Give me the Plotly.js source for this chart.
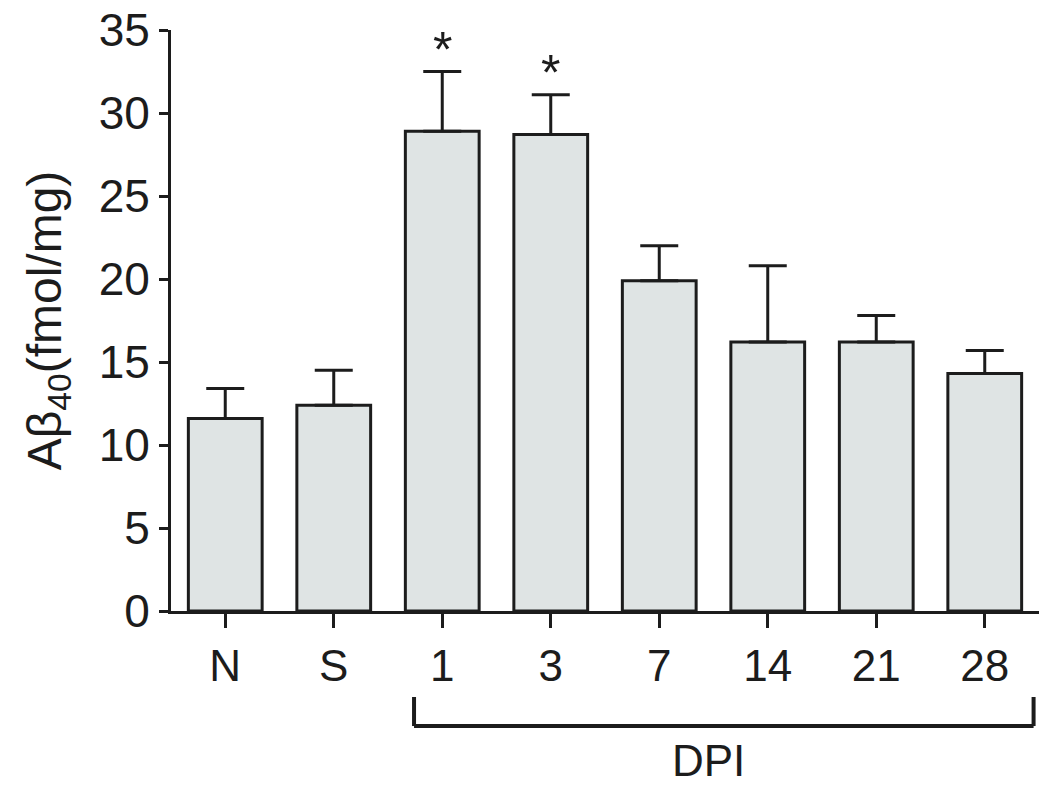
<!DOCTYPE html>
<html>
<head>
<meta charset="utf-8">
<script src="https://cdn.plot.ly/plotly-3.0.1.min.js"></script>
<style>html,body{margin:0;padding:0;background:#fff;}#chart{width:1050px;height:787px;}</style>
</head>
<body>
<div id="chart"></div>
<script>
const categories = ["N", "S", "1", "3", "7", "14", "21", "28"];
const meanValues = [11.6, 12.4, 28.9, 28.7, 19.9, 16.2, 16.2, 14.3];
const errorValues = [1.8, 2.1, 3.6, 2.4, 2.1, 4.6, 1.6, 1.4];
const significant = ["", "", "*", "*", "", "", "", ""];
const yTicks = [0, 5, 10, 15, 20, 25, 30, 35];
const groupLabel = "DPI";

const font = "Liberation Sans, Arial, Helvetica, sans-serif";
const ink = "#1c1c1c";

const trace = {
  type: "bar",
  x: categories,
  y: meanValues,
  marker: {color: "#dfe4e4", line: {color: ink, width: 3}},
  error_y: {
    type: "data", symmetric: false,
    array: errorValues,
    arrayminus: errorValues.map(() => 0),
    color: ink, thickness: 3, width: 19
  },
  hoverinfo: "none"
};

const annotations = [];
categories.forEach((c, i) => {
  if (significant[i]) {
    annotations.push({
      x: i, y: meanValues[i] + errorValues[i], xref: "x", yref: "y",
      text: significant[i], showarrow: false, yanchor: "bottom", yshift: -8,
      font: {family: font, size: 50, color: ink}
    });
  }
});
annotations.push({
  x: 4.45, y: -0.258, xref: "x", yref: "paper",
  text: groupLabel, showarrow: false, xanchor: "center", yanchor: "middle",
  font: {family: font, size: 44, color: ink}
});

const layout = {
  width: 1050, height: 787,
  margin: {l: 171, r: 11, t: 30, b: 176},
  paper_bgcolor: "#ffffff", plot_bgcolor: "#ffffff",
  showlegend: false,
  bargap: 0.32,
  xaxis: {
    type: "category",
    range: [-0.5, 7.5],
    showline: true, linecolor: ink, linewidth: 3,
    ticks: "outside", ticklen: 14, tickwidth: 3, tickcolor: ink,
    tickfont: {family: font, size: 44, color: ink},
    showgrid: false, zeroline: false, fixedrange: true
  },
  yaxis: {
    range: [0, 35],
    tickvals: yTicks,
    ticktext: yTicks.map(String),
    showline: true, linecolor: ink, linewidth: 3,
    ticks: "outside", ticklen: 9, tickwidth: 3, tickcolor: ink,
    tickfont: {family: font, size: 46, color: ink},
    showgrid: false, zeroline: false, fixedrange: true,
    title: {text: "Aβ<sub>40</sub>(fmol/mg)", font: {family: font, size: 48, color: ink}, standoff: 22}
  },
  annotations: annotations,
  shapes: [
    {type: "line", xref: "x", yref: "paper", x0: 1.74, x1: 1.74, y0: -0.148, y1: -0.198, line: {color: ink, width: 4}},
    {type: "line", xref: "x", yref: "paper", x0: 1.74, x1: 7.45, y0: -0.198, y1: -0.198, line: {color: ink, width: 4}},
    {type: "line", xref: "x", yref: "paper", x0: 7.45, x1: 7.45, y0: -0.148, y1: -0.198, line: {color: ink, width: 4}}
  ]
};

Plotly.newPlot("chart", [trace], layout, {displayModeBar: false, staticPlot: true});
</script>
</body>
</html>
